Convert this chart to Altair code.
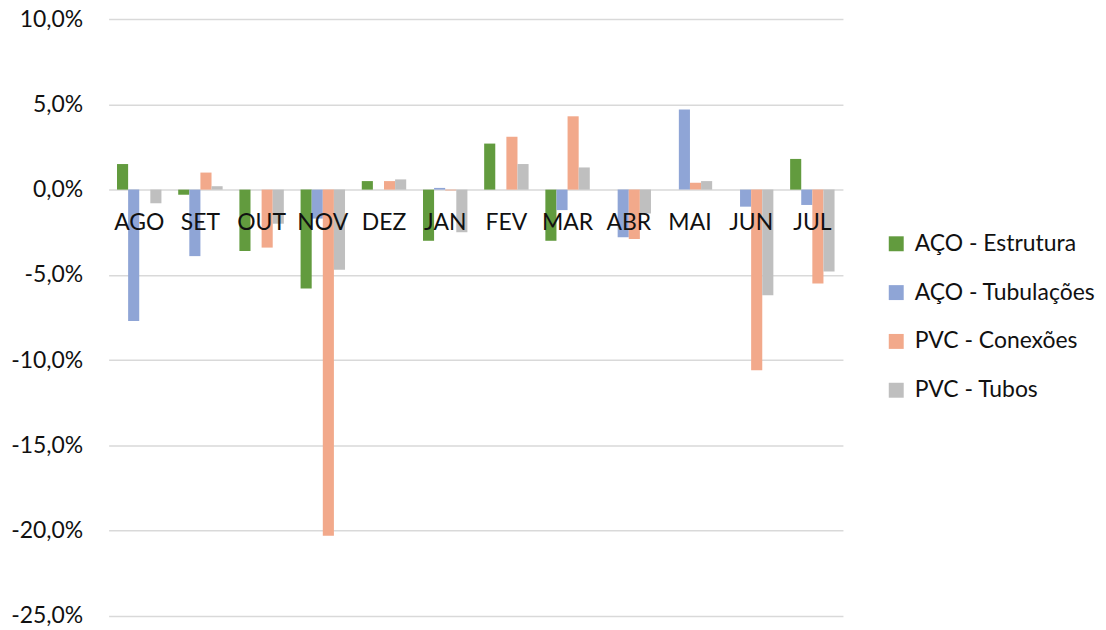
import altair as alt
import pandas as pd

months = ["AGO", "SET", "OUT", "NOV", "DEZ", "JAN", "FEV", "MAR", "ABR", "MAI", "JUN", "JUL"]
series = ["AÇO - Estrutura", "AÇO - Tubulações", "PVC - Conexões", "PVC - Tubos"]
colors = ["#629B3E", "#8FA5D6", "#F2A98B", "#BFBFBF"]

aco_estrutura = [1.5, -0.3, -3.6, -5.8, 0.5, -3.0, 2.7, -3.0, 0.0, 0.0, 0.0, 1.8]
aco_tubulacoes = [-7.7, -3.9, 0.0, -1.7, 0.0, 0.1, 0.0, -1.2, -2.8, 4.7, -1.0, -0.9]
pvc_conexoes = [0.0, 1.0, -3.4, -20.3, 0.5, -0.05, 3.1, 4.3, -2.9, 0.4, -10.6, -5.5]
pvc_tubos = [-0.8, 0.2, -2.0, -4.7, 0.6, -2.5, 1.5, 1.3, -1.4, 0.5, -6.2, -4.8]

y_ticks = [-0.25, -0.20, -0.15, -0.10, -0.05, 0.0, 0.05, 0.10]

rows = []
for s, vals in zip(series, [aco_estrutura, aco_tubulacoes, pvc_conexoes, pvc_tubos]):
    for m, v in zip(months, vals):
        rows.append({"month": m, "series": s, "value": v / 100.0})
df = pd.DataFrame(rows)
df_months = pd.DataFrame({"month": months})

FONT = "Lato"
TXT = "#111111"

x_enc = alt.X("month:N", sort=months,
              scale=alt.Scale(paddingInner=0.274, paddingOuter=0.137),
              axis=None)

bars = alt.Chart(df).mark_bar().encode(
    x=x_enc,
    xOffset=alt.XOffset("series:N", sort=series, scale=alt.Scale(paddingInner=0, paddingOuter=0)),
    y=alt.Y("value:Q",
            scale=alt.Scale(domain=[-0.25, 0.10], nice=False, zero=False),
            axis=alt.Axis(values=y_ticks, title=None, domain=False, ticks=False,
                          labelPadding=26, labelFontSize=23, labelFont=FONT, labelColor=TXT,
                          gridColor="#D9D9D9", gridWidth=1.5,
                          labelExpr="replace((datum.value < 0 ? '-' : '') + format(abs(datum.value), '.1%'), '.', ',')")),
    color=alt.Color("series:N", sort=series,
                    scale=alt.Scale(domain=series, range=colors),
                    legend=alt.Legend(title=None, orient="none", legendX=779, legendY=214,
                                      symbolType="square", symbolSize=225, symbolStrokeWidth=0,
                                      labelFontSize=23, labelFont=FONT, labelColor=TXT,
                                      labelLimit=400,
                                      labelOffset=7, rowPadding=25, padding=0)),
)

labels = alt.Chart(df_months).mark_text(fontSize=23, font=FONT, color=TXT,
                                        baseline="middle", align="center", dy=34).encode(
    x=x_enc,
    y=alt.datum(0),
    text="month:N",
)

chart = alt.layer(bars, labels).properties(
    width=737, height=599,
    autosize=alt.AutoSizeParams(type="none"),
    padding={"left": 101, "top": 10, "right": 256, "bottom": 13},
).configure_view(stroke=None)

chart.save("out.html", embed_options={"renderer": "svg", "actions": False})
